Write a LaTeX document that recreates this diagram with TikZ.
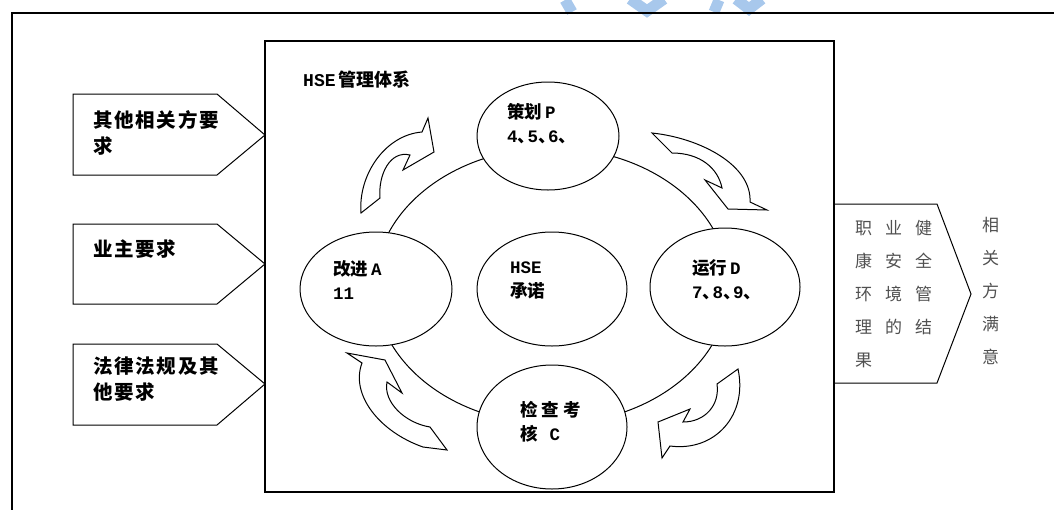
\documentclass[tikz,border=0pt]{standalone}
\usepackage{fontspec}
\usetikzlibrary{shapes.geometric}
\newfontfamily\cjk{Noto Sans CJK SC}
\newfontfamily\cjkls{Noto Sans CJK SC}[LetterSpace=9]
\newfontfamily\lat{Liberation Mono}
\newcommand{\dun}{\makebox[10pt][l]{、}}
\definecolor{wmblue}{RGB}{168,200,236}
\definecolor{rtgray}{RGB}{80,80,80}
\tikzset{
  frameline/.style={line width=1.3pt},
  shapeline/.style={line width=1pt, line join=miter},
  oval/.style={draw, ellipse, line width=1pt, fill=white, inner sep=0pt},
  curvy/.style={draw, line width=1pt, fill=white, line join=miter},
  lefttext/.style={anchor=north west, align=left, inner sep=0pt,
    font=\cjkls\bfseries\fontsize{19.5}{26}\selectfont},
  ovaltext/.style={anchor=west, align=left, inner sep=0pt,
    font=\cjk\bfseries\fontsize{17.5}{24}\selectfont},
  righttext/.style={anchor=north west, align=left, inner sep=0pt, text=rtgray,
    font=\cjk\fontsize{17}{33}\selectfont},
}
\begin{document}
\begin{tikzpicture}[x=1pt,y=-1pt]
\useasboundingbox (0,0) rectangle (1054,509);
% watermark fragments
\begin{scope}[wmblue, line width=11pt]
\draw (565,0) -- (572,12);
\draw (630,-1) -- (647,11) -- (664,-1);
\draw (719,0) -- (714,12);
\draw (736,-1) -- (749,9) -- (762,-1);
\end{scope}
% outer frame
\draw[frameline] (12,512) -- (12,13) -- (1058,13);
% inner box
\draw[frameline] (265,41) rectangle (834,492);
% left pentagons
\draw[shapeline] (73,94) -- (217,94) -- (265,135) -- (217,175) -- (73,175) -- cycle;
\draw[shapeline] (73,224) -- (217,224) -- (265,264) -- (217,304) -- (73,304) -- cycle;
\draw[shapeline] (73,344) -- (217,344) -- (265,384) -- (217,425) -- (73,425) -- cycle;
\node[lefttext] (req1) at (93,110) {其他相关方要\\求};
\node[lefttext] (req2) at (93,239) {业主要求};
\node[lefttext] (req3) at (93,357) {法律法规及其\\他要求};
% right pentagon
\draw[shapeline] (834,204) -- (937,204) -- (971,294) -- (937,383) -- (834,383);
\node[righttext] (result) at (855,220) {职\hspace{13pt}业\hspace{13pt}健\\康\hspace{13pt}安\hspace{13pt}全\\环\hspace{13pt}境\hspace{13pt}管\\理\hspace{13pt}的\hspace{13pt}结\\果};
\node[righttext] (satisfy) at (982,217) {相\\关\\方\\满\\意};
% title
\node[anchor=west, inner sep=0pt, font=\fontsize{18}{20}\selectfont] (title) at (303,80) {{\lat\bfseries HSE}\,{\cjk\bfseries 管理体系}};
% ring
\draw[line width=1pt] (552,286) ellipse [x radius=177, y radius=138];
% curved arrows
\path[curvy] (361,213) .. controls (358,175) and (385,135) .. (422,132)
  -- (428,118) -- (434,152) -- (403,170) -- (410,155)
  .. controls (390,150) and (378,175) .. (380,198) -- cycle;
\path[curvy] (652,133) .. controls (700,138) and (752,165) .. (750,202)
  -- (767,210) -- (728,209) -- (705,180) -- (722,188)
  .. controls (718,168) and (700,153) .. (672,153) -- cycle;
\path[curvy] (347,353) -- (385,360) -- (402,393) -- (387,382)
  .. controls (383,402) and (405,423) .. (430,427) -- (447,450) -- (423,447)
  .. controls (380,432) and (350,395) .. (362,363) -- cycle;
\path[curvy] (738,369) .. controls (748,415) and (715,452) .. (670,446)
  -- (662,458) -- (658,422) -- (690,409) -- (683,422)
  .. controls (705,422) and (720,405) .. (717,384) -- cycle;
% ellipses
\node[oval, minimum width=142, minimum height=108] (plan) at (548,136) {};
\node[oval, minimum width=152, minimum height=114] (act) at (376,289) {};
\node[oval, minimum width=150, minimum height=114] (commit) at (552,289) {};
\node[oval, minimum width=150, minimum height=118] (do) at (725,287) {};
\node[oval, minimum width=150, minimum height=124] (check) at (552,427) {};
% ellipse texts
\node[ovaltext] (plant) at (507,124) {策划\,{\lat\bfseries P}\\{\lat\bfseries 4}\dun{\lat\bfseries 5}\dun{\lat\bfseries 6}\dun};
\node[ovaltext] (actt) at (333,280) {改进\,{\lat\bfseries A}\\{\lat\bfseries 11}};
\node[ovaltext] (committ) at (510,280) {{\lat\bfseries HSE}\\承诺};
\node[ovaltext] (dot) at (692,280) {运行\,{\lat\bfseries D}\\{\lat\bfseries 7}\dun{\lat\bfseries 8}\dun{\lat\bfseries 9}\dun};
\node[ovaltext] (checkt) at (520,422) {检\hspace{4pt}查\hspace{4pt}考\\核\hspace{12pt}{\lat\bfseries C}};
\end{tikzpicture}
\end{document}
